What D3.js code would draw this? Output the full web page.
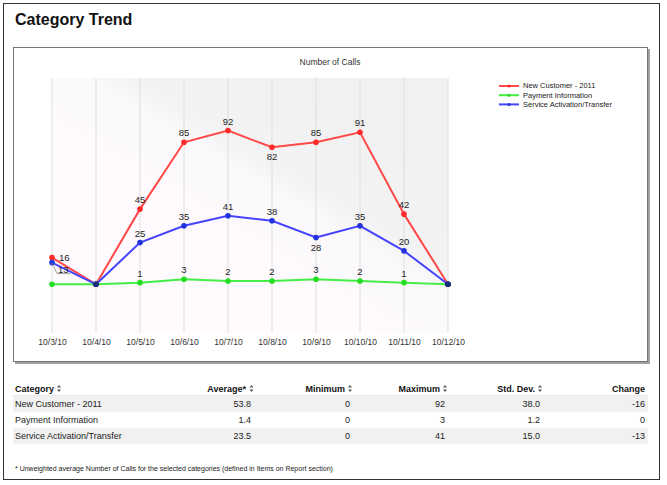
<!DOCTYPE html>
<html lang="en">
<head>
<meta charset="UTF-8">
<title>Category Trend</title>
<script src="https://d3js.org/d3.v7.min.js"></script>
<style>
    body { margin: 0; background: #fff; }
    text { font-family: "Liberation Sans", Arial, sans-serif; }
    .narrow { font-family: "Liberation Sans Narrow", "Arial Narrow", "Liberation Sans", sans-serif; }
</style>
</head>
<body>
<script>
    // Chart data
    var dates = ["10/3/10", "10/4/10", "10/5/10", "10/6/10", "10/7/10", "10/8/10", "10/9/10", "10/10/10", "10/11/10", "10/12/10"];
    var seriesNames = ["New Customer - 2011", "Payment Information", "Service Activation/Transfer"];
    var newCustomer = [16, 0, 45, 85, 92, 82, 85, 91, 42, 0];
    var paymentInfo = [0, 0, 1, 3, 2, 2, 3, 2, 1, 0];
    var serviceActivation = [13, 0, 25, 35, 41, 38, 28, 35, 20, 0];

    // Summary table data
    var tableColumns = ["Category", "Average*", "Minimum", "Maximum", "Std. Dev.", "Change"];
    var tableAverage = ["53.8", "1.4", "23.5"];
    var tableMinimum = ["0", "0", "0"];
    var tableMaximum = ["92", "3", "41"];
    var tableStdDev = ["38.0", "1.2", "15.0"];
    var tableChange = ["-16", "0", "-13"];

    var colors = ["#ff4848", "#44ee44", "#4444ff"];
    var markerColors = ["#ff2a2a", "#22dd22", "#2233dd"];

    var width = 667, height = 485;

    var svg = d3.select("body").append("svg")
        .attr("width", width)
        .attr("height", height);

    // Outer frame
    svg.append("rect")
        .attr("x", 3.5).attr("y", 3.5)
        .attr("width", 656).attr("height", 476)
        .attr("fill", "#fff").attr("stroke", "#333");

    svg.append("text")
        .attr("x", 15).attr("y", 25)
        .style("font-size", "16px").style("font-weight", "bold")
        .attr("fill", "#111")
        .text("Category Trend");

    // Chart box with shadow
    svg.append("rect")
        .attr("x", 15).attr("y", 49)
        .attr("width", 635).attr("height", 315)
        .attr("fill", "#a0a0a0");
    svg.append("rect")
        .attr("x", 13.5).attr("y", 47.5)
        .attr("width", 634).attr("height", 314)
        .attr("fill", "#fff").attr("stroke", "#777");

    svg.append("text")
        .attr("x", 330).attr("y", 65)
        .attr("text-anchor", "middle")
        .style("font-size", "8.5px")
        .attr("fill", "#333")
        .text("Number of Calls");

    // Scales
    var x = d3.scalePoint().domain(dates).range([52, 448]);
    var y = d3.scaleLinear().domain([0, 92]).range([284.3, 130.6]);
    var plotTop = 78, plotBottom = 333;

    // Plot background
    var defs = svg.append("defs");
    var grad = defs.append("linearGradient")
        .attr("id", "bg")
        .attr("gradientUnits", "userSpaceOnUse")
        .attr("x1", 230).attr("y1", 250)
        .attr("x2", 320).attr("y2", 100);
    grad.append("stop").attr("offset", 0).attr("stop-color", "#fefafe");
    grad.append("stop").attr("offset", 0.42).attr("stop-color", "#fbf9fb");
    grad.append("stop").attr("offset", 0.5).attr("stop-color", "#f6f5f6");
    grad.append("stop").attr("offset", 0.56).attr("stop-color", "#f3f3f3");
    grad.append("stop").attr("offset", 1).attr("stop-color", "#f1f1f1");

    svg.append("rect")
        .attr("x", x(dates[0])).attr("y", plotTop)
        .attr("width", x(dates[dates.length - 1]) - x(dates[0]))
        .attr("height", plotBottom - plotTop)
        .attr("fill", "url(#bg)");

    // Vertical grid lines
    svg.append("g")
        .selectAll("line")
        .data(dates)
        .enter().append("line")
        .attr("x1", d => x(d)).attr("x2", d => x(d))
        .attr("y1", plotTop).attr("y2", plotBottom)
        .attr("stroke", "#dedede").attr("stroke-width", 1);

    // X axis labels
    var xAxis = d3.axisBottom(x).tickSize(0).tickPadding(0);
    var xg = svg.append("g")
        .attr("transform", "translate(0," + 339 + ")")
        .call(xAxis);
    xg.select(".domain").remove();
    xg.selectAll("text")
        .style("font-size", "8.5px")
        .style("font-family", "'Liberation Sans', Arial, sans-serif")
        .attr("fill", "#333");

    // Series
    var allSeries = [newCustomer, paymentInfo, serviceActivation].map((vals, i) => ({
        name: seriesNames[i],
        color: colors[i],
        marker: markerColors[i],
        data: vals.map((v, j) => ({ date: dates[j], value: v }))
    }));

    // dates where every series sits at zero get a dark shared marker
    var allZero = dates.filter((d, j) => newCustomer[j] === 0 && paymentInfo[j] === 0 && serviceActivation[j] === 0);

    var line = d3.line()
        .x(d => x(d.date))
        .y(d => y(d.value));

    allSeries.forEach(s => {
        svg.append("path")
            .datum(s.data)
            .attr("fill", "none")
            .attr("stroke", s.color)
            .attr("stroke-width", 2)
            .attr("d", line);
    });

    allSeries.forEach(s => {
        svg.append("g")
            .selectAll("circle")
            .data(s.data)
            .enter().append("circle")
            .attr("cx", d => x(d.date))
            .attr("cy", d => y(d.value))
            .attr("r", 2.8)
            .attr("fill", d => allZero.indexOf(d.date) >= 0 ? "#1c2c78" : s.marker);
    });

    // Value labels (zeros are not labelled)
    var below = { "New Customer - 2011": ["10/8/10"], "Service Activation/Transfer": ["10/9/10"] };
    allSeries.forEach(s => {
        s.data.forEach((d, j) => {
            if (d.value === 0) return;
            var lx = x(d.date), ly = y(d.value) - 6;
            var anchor = "middle";
            if (j === 0 && s.name === "New Customer - 2011") {
                lx = x(d.date) + 7; ly = y(d.value) + 3; anchor = "start";
            } else if (j === 0 && s.name === "Service Activation/Transfer") {
                // leader line to the label
                svg.append("path")
                    .attr("d", "M" + x(d.date) + "," + y(d.value) + "L" + (x(d.date) + 5) + "," + (y(d.value) + 11) + "H" + (x(d.date) + 18))
                    .attr("fill", "none").attr("stroke", "#888").attr("stroke-width", 0.8);
                lx = x(d.date) + 6; ly = y(d.value) + 10.5; anchor = "start";
            } else if ((below[s.name] || []).indexOf(d.date) >= 0) {
                ly = y(d.value) + 13;
            }
            svg.append("text")
                .attr("x", lx).attr("y", ly)
                .attr("text-anchor", anchor)
                .style("font-size", "9.5px")
                .attr("fill", "#222")
                .text(d.value);
        });
    });

    // Legend
    var legend = svg.selectAll(".legend")
        .data(allSeries)
        .enter().append("g")
        .attr("class", "legend")
        .attr("transform", (d, i) => "translate(499," + (86 + i * 9.2) + ")");
    legend.append("line")
        .attr("x1", 0).attr("x2", 20)
        .attr("stroke", d => d.color).attr("stroke-width", 2);
    legend.append("circle")
        .attr("cx", 10).attr("r", 1.5)
        .attr("fill", d => d.marker);
    legend.append("text")
        .attr("x", 24).attr("dy", "0.33em")
        .style("font-size", "7.5px")
        .attr("fill", "#222")
        .text(d => d.name);

    // Summary table
    var colX = [15, 255, 354, 449, 544, 645];
    var rowY = [404, 420, 436];
    var rows = seriesNames.map((n, i) => [n, tableAverage[i], tableMinimum[i], tableMaximum[i], tableStdDev[i], tableChange[i]]);

    svg.append("line")
        .attr("x1", 13).attr("x2", 648)
        .attr("y1", 396).attr("y2", 396)
        .attr("stroke", "#cfcfcf");

    rows.forEach((r, i) => {
        if (i !== 1) {
            svg.append("rect")
                .attr("x", 13).attr("y", rowY[i] - 8)
                .attr("width", 635).attr("height", 16)
                .attr("fill", "#f1f1f1");
        }
    });

    tableColumns.forEach((c, i) => {
        var hasSort = i < 5;
        var tx = i === 0 ? colX[0] : colX[i] - (hasSort ? 9 : 0);
        svg.append("text")
            .attr("class", "narrow")
            .attr("x", tx).attr("y", 392)
            .attr("text-anchor", i === 0 ? "start" : "end")
            .style("font-size", "9px").style("font-weight", "bold")
            .attr("fill", "#111")
            .text(c);
    });

    // sort arrows
    var headerWidths = [];
    svg.selectAll("text.narrow").each(function (d, i) {
        headerWidths.push(this.getBBox());
    });
    headerWidths.forEach((b, i) => {
        if (i > 4) return;
        var ax = b.x + b.width + 5;
        svg.append("path")
            .attr("d", "M" + (ax - 2) + ",387.5 L" + (ax + 2) + ",387.5 L" + ax + ",385 Z M" + (ax - 2) + ",389.5 L" + (ax + 2) + ",389.5 L" + ax + ",392 Z")
            .attr("fill", "#555");
    });

    rows.forEach((r, i) => {
        r.forEach((v, j) => {
            svg.append("text")
                .attr("class", "narrow")
                .attr("x", j === 0 ? colX[0] : colX[j] - (j < 5 ? 4 : 0))
                .attr("y", rowY[i] + 3)
                .attr("text-anchor", j === 0 ? "start" : "end")
                .style("font-size", "9px")
                .attr("fill", "#222")
                .text(v);
        });
    });

    svg.append("text")
        .attr("class", "narrow")
        .attr("x", 15).attr("y", 471)
        .style("font-size", "7px")
        .attr("fill", "#222")
        .text("* Unweighted average Number of Calls for the selected categories (defined in Items on Report section)");
</script>
</body>
</html>
